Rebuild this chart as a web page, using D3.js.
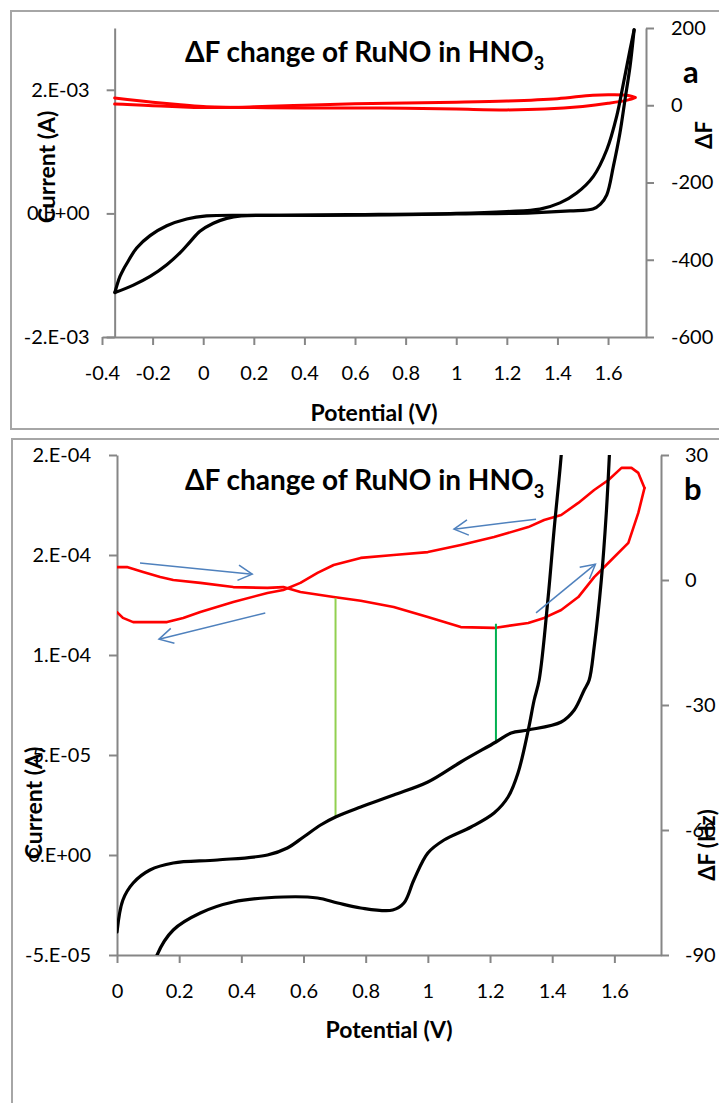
<!DOCTYPE html>
<html><head><meta charset="utf-8">
<script src="https://cdn.jsdelivr.net/npm/d3@7"></script>
<style>
body{margin:0;background:#fff;}
svg{display:block;font-family:Lato,"Open Sans",sans-serif;}
.tick text{font-size:20px;fill:#000;font-family:Lato,sans-serif;}
.tick line{stroke:#868686;stroke-width:2;}
.domain{stroke:#868686;stroke-width:2;}
</style></head><body>
<script>
// ---------- DATA ----------
// Panel a: x ticks / y ticks
const aXTicks = [-0.4,-0.2,0,0.2,0.4,0.6,0.8,1,1.2,1.4,1.6];
const aLeftTicks = [-2e-3,0,2e-3];
const aLeftLabels = ["-2.E-03","0.E+00","2.E-03"];
const aRightTicks = [-600,-400,-200,0,200];
// Panel a: current (A) vs potential (V)
const aCurrentForward = [[-0.349,-1.28e-3],[-0.34,-1.15e-3],[-0.329,-1.02e-3],[-0.316,-0.91e-3],[-0.302,-0.81e-3],[-0.263,-0.56e-3],[-0.21,-0.36e-3],[-0.144,-0.2e-3],[-0.065,-0.09e-3],[0.013,-0.04e-3],[0.2,-0.03e-3],[0.6,-0.03e-3],[1.0,-0.01e-3],[1.3,0.01e-3],[1.45,0.04e-3],[1.54,0.07e-3],[1.57,0.15e-3],[1.595,0.3e-3],[1.621,0.76e-3],[1.647,1.3e-3],[1.667,1.84e-3],[1.687,2.38e-3],[1.703,2.97e-3]];
const aCurrentReverse = [[1.703,2.97e-3],[1.687,2.65e-3],[1.661,2.11e-3],[1.634,1.57e-3],[1.595,1.03e-3],[1.542,0.6e-3],[1.476,0.33e-3],[1.41,0.17e-3],[1.331,0.07e-3],[1.2,0.03e-3],[1.0,0.0],[0.6,-0.02e-3],[0.3,-0.03e-3],[0.15,-0.04e-3],[0.093,-0.08e-3],[0.04,-0.16e-3],[-0.013,-0.29e-3],[-0.052,-0.46e-3],[-0.092,-0.64e-3],[-0.144,-0.83e-3],[-0.21,-1.02e-3],[-0.276,-1.16e-3],[-0.349,-1.28e-3]];
// Panel a: ΔF (Hz)
const aFreqForward = [[-0.35,19],[-0.3,15],[-0.2,8],[-0.1,2],[0,-3],[0.2,-6],[0.4,-7],[0.6,-7],[0.8,-8],[1.0,-10],[1.2,-12],[1.35,-10],[1.5,-3],[1.6,5],[1.68,14],[1.707,20]];
const aFreqReverse = [[1.707,20],[1.68,25],[1.62,27],[1.54,26],[1.4,17],[1.2,11],[1.0,8],[0.8,6],[0.6,4],[0.4,0],[0.2,-4],[0,-6],[-0.1,-4],[-0.2,-1],[-0.3,2],[-0.35,3]];

// Panel b ticks
const bXTicks = [0,0.2,0.4,0.6,0.8,1,1.2,1.4,1.6];
const bLeftTicks = [-5e-5,0,5e-5,1e-4,1.5e-4,2e-4];
const bLeftLabels = ["-5.E-05","0.E+00","5.E-05","1.E-04","2.E-04","2.E-04"];
const bRightTicks = [-90,-60,-30,0,30];
// Panel b: current (A)
const bCurrentA = [[0,-38.5e-6],[0.019,-22.5e-6],[0.052,-14e-6],[0.106,-7.5e-6],[0.181,-4e-6],[0.323,-2.5e-6],[0.484,0],[0.548,3.5e-6],[0.6,9e-6],[0.655,15e-6],[0.703,19e-6],[0.784,24e-6],[0.89,30e-6],[1.0,36.5e-6],[1.106,46.5e-6],[1.219,56.5e-6],[1.268,61e-6],[1.323,62.5e-6],[1.429,66.5e-6],[1.471,72.5e-6],[1.503,82.5e-6],[1.519,87.5e-6],[1.535,104e-6],[1.558,137.5e-6],[1.574,171e-6],[1.584,200e-6],[1.59,220e-6]];
const bCurrentB = [[0.12,-56e-6],[0.129,-50e-6],[0.181,-37.5e-6],[0.268,-29e-6],[0.374,-23.5e-6],[0.535,-21e-6],[0.645,-21.5e-6],[0.71,-24e-6],[0.784,-26.5e-6],[0.887,-27.5e-6],[0.923,-24e-6],[0.955,-12.5e-6],[1.0,1e-6],[1.052,7.5e-6],[1.139,14e-6],[1.213,21e-6],[1.258,29e-6],[1.29,41e-6],[1.323,62.5e-6],[1.342,77.5e-6],[1.358,87.5e-6],[1.387,129e-6],[1.406,162.5e-6],[1.429,200e-6],[1.435,215e-6]];
// Panel b: ΔF (Hz)
const bFreqForward = [[0,3.1],[0.032,3.1],[0.084,1.9],[0.139,0.7],[0.181,0],[0.268,-0.7],[0.374,-1.7],[0.484,-1.9],[0.535,-1.7],[0.59,-2.9],[0.697,-4.1],[0.784,-5.0],[0.89,-6.5],[1.0,-8.9],[1.106,-11.3],[1.213,-11.5],[1.323,-10.3],[1.374,-9.1],[1.429,-7.2],[1.484,-4.1],[1.535,0.7],[1.59,4.8],[1.645,8.9],[1.677,16.1],[1.697,22.1]];
const bFreqReverse = [[1.697,22.1],[1.677,25.7],[1.655,26.9],[1.623,26.9],[1.581,24],[1.535,21.6],[1.484,18.5],[1.429,15.6],[1.374,14.4],[1.323,12.7],[1.213,10.3],[1.106,8.4],[1.0,6.7],[0.89,6.0],[0.784,5.3],[0.697,3.6],[0.645,1.7],[0.59,-0.7],[0.535,-2.4],[0.484,-3.1],[0.374,-5.3],[0.268,-7.7],[0.213,-9.1],[0.161,-10.1],[0.052,-10.1],[0.019,-9.1],[0,-7.7]];
// Panel b annotations: green drop lines (potential, current at bottom, ΔF at top)
const bGreenLines = [[0.703,19e-6,-4.3,"#92D050"],[1.219,56.5e-6,-10.5,"#00B050"]];
// Panel b blue arrows in (potential, ΔF): from -> to
const bArrows = [[[0.074,4.1],[0.435,1.4]],[[0.477,-7.9],[0.135,-14.2]],[[1.348,14.6],[1.084,12.2]],[[1.348,-7.9],[1.539,3.8]]];

// ---------- DRAW ----------
const W=719,H=1103;
const svg=d3.select("body").append("svg").attr("width",W).attr("height",H);
const FONT="Lato, 'Open Sans', sans-serif";

// frames
svg.append("rect").attr("x",11).attr("y",11).attr("width",730).attr("height",418)
  .attr("fill","none").attr("stroke","#a6a6a6").attr("stroke-width",2);
svg.append("rect").attr("x",12).attr("y",439).attr("width",730).attr("height",700)
  .attr("fill","none").attr("stroke","#a6a6a6").attr("stroke-width",2);

const fmtX = v => String(+v.toFixed(1));
const fmtInt = v => String(v);

function title(y){
  const t=svg.append("text").attr("x",185).attr("y",y).attr("font-family",FONT)
    .attr("font-weight","bold").attr("font-size",28).attr("fill","#000");
  t.append("tspan").text("ΔF change of RuNO in HNO");
  t.append("tspan").attr("font-size",18).attr("dy",8).text("3");
}
function rotLabel(x,y,txt,size){
  svg.append("text").attr("transform",`translate(${x},${y}) rotate(-90)`)
    .attr("text-anchor","middle").attr("font-family",FONT).attr("font-weight","bold")
    .attr("font-size",size).attr("dy","0.35em").text(txt);
}
function arrowHead(g,p0,p1,col){
  const ang=Math.atan2(p1[1]-p0[1],p1[0]-p0[0]);
  const L=16,a=0.5;
  const pts=[[p1[0]-L*Math.cos(ang-a),p1[1]-L*Math.sin(ang-a)],p1,[p1[0]-L*Math.cos(ang+a),p1[1]-L*Math.sin(ang+a)]];
  g.append("path").attr("d",d3.line()(pts)).attr("fill","none").attr("stroke",col).attr("stroke-width",1.5);
}

// ===== Panel a =====
{
  const x=d3.scaleLinear().domain([-0.4,1.75]).range([102,646]);
  const yL=d3.scaleLinear().domain([-2e-3,3e-3]).range([337,28]);
  const yR=d3.scaleLinear().domain([-600,200]).range([337,28]);
  const g=svg.append("g");
  g.append("g").attr("transform","translate(0,337)")
    .call(d3.axisBottom(x).tickValues(aXTicks).tickFormat(fmtX).tickSize(8).tickSizeOuter(0).tickPadding(21));
  g.append("g").attr("transform",`translate(${x(-0.35)},0)`)
    .call(d3.axisLeft(yL).tickValues(aLeftTicks).tickFormat((d,i)=>aLeftLabels[i]).tickSize(8).tickSizeOuter(0).tickPadding(17));
  g.append("g").attr("transform","translate(646,0)")
    .call(d3.axisRight(yR).tickValues(aRightTicks).tickFormat(fmtInt).tickSize(8).tickSizeOuter(0).tickPadding(17));
  g.selectAll(".tick text").attr("font-family",FONT);

  const lc=d3.line().x(d=>x(d[0])).y(d=>yL(d[1])).curve(d3.curveCatmullRom.alpha(0.5));
  const lf=d3.line().x(d=>x(d[0])).y(d=>yR(d[1])).curve(d3.curveCatmullRom.alpha(0.5));
  [aFreqForward,aFreqReverse].forEach(s=>g.append("path").attr("d",lf(s)).attr("fill","none")
    .attr("stroke","#ff0000").attr("stroke-width",3).attr("stroke-linejoin","round").attr("stroke-linecap","round"));
  [aCurrentForward,aCurrentReverse].forEach(s=>g.append("path").attr("d",lc(s)).attr("fill","none")
    .attr("stroke","#000").attr("stroke-width",3.2).attr("stroke-linejoin","round").attr("stroke-linecap","round"));

  title(62);
  svg.append("text").attr("x",683).attr("y",83).attr("font-family",FONT).attr("font-weight","bold").attr("font-size",31).text("a");
  rotLabel(47,167,"Current (A)",23);
  rotLabel(704,135,"ΔF",22);
  svg.append("text").attr("x",374).attr("y",421).attr("text-anchor","middle").attr("font-family",FONT)
    .attr("font-weight","bold").attr("font-size",23).text("Potential (V)");
}

// ===== Panel b =====
{
  const x=d3.scaleLinear().domain([0,1.75]).range([117,661]);
  const yL=d3.scaleLinear().domain([-5e-5,2e-4]).range([955,455]);
  const yR=d3.scaleLinear().domain([-90,30]).range([955,455]);
  svg.append("clipPath").attr("id","clipB").append("rect").attr("x",117).attr("y",455).attr("width",544).attr("height",500);
  const g=svg.append("g");
  g.append("g").attr("transform","translate(0,955)")
    .call(d3.axisBottom(x).tickValues(bXTicks).tickFormat(fmtX).tickSize(8).tickSizeOuter(0).tickPadding(21));
  g.append("g").attr("transform","translate(117,0)")
    .call(d3.axisLeft(yL).tickValues(bLeftTicks).tickFormat((d,i)=>bLeftLabels[i]).tickSize(8).tickSizeOuter(0).tickPadding(18));
  g.append("g").attr("transform","translate(661,0)")
    .call(d3.axisRight(yR).tickValues(bRightTicks).tickFormat(fmtInt).tickSize(8).tickSizeOuter(0).tickPadding(16));
  g.selectAll(".tick text").attr("font-family",FONT);

  const d=g.append("g").attr("clip-path","url(#clipB)");
  const lc=d3.line().x(p=>x(p[0])).y(p=>yL(p[1])).curve(d3.curveCatmullRom.alpha(0.5));
  const lf=d3.line().x(p=>x(p[0])).y(p=>yR(p[1]));
  [bFreqForward,bFreqReverse].forEach(s=>d.append("path").attr("d",lf(s)).attr("fill","none")
    .attr("stroke","#ff0000").attr("stroke-width",2.6).attr("stroke-linejoin","round").attr("stroke-linecap","round"));
  bGreenLines.forEach(gl=>d.append("line").attr("x1",x(gl[0])).attr("x2",x(gl[0]))
    .attr("y1",yL(gl[1])).attr("y2",yR(gl[2])).attr("stroke",gl[3]).attr("stroke-width",2));
  [bCurrentA,bCurrentB].forEach(s=>d.append("path").attr("d",lc(s)).attr("fill","none")
    .attr("stroke","#000").attr("stroke-width",3.2).attr("stroke-linejoin","round").attr("stroke-linecap","round"));
  bArrows.forEach(a=>{
    const p0=[x(a[0][0]),yR(a[0][1])],p1=[x(a[1][0]),yR(a[1][1])];
    g.append("line").attr("x1",p0[0]).attr("y1",p0[1]).attr("x2",p1[0]).attr("y2",p1[1])
      .attr("stroke","#4F81BD").attr("stroke-width",1.5);
    arrowHead(g,p0,p1,"#4F81BD");
  });

  title(490);
  svg.append("text").attr("x",684).attr("y",500).attr("font-family",FONT).attr("font-weight","bold").attr("font-size",31).text("b");
  rotLabel(34,803,"Current (A)",23);
  rotLabel(707,845,"ΔF (Hz)",22);
  svg.append("text").attr("x",389).attr("y",1038).attr("text-anchor","middle").attr("font-family",FONT)
    .attr("font-weight","bold").attr("font-size",23).text("Potential (V)");
}
</script>
</body></html>
